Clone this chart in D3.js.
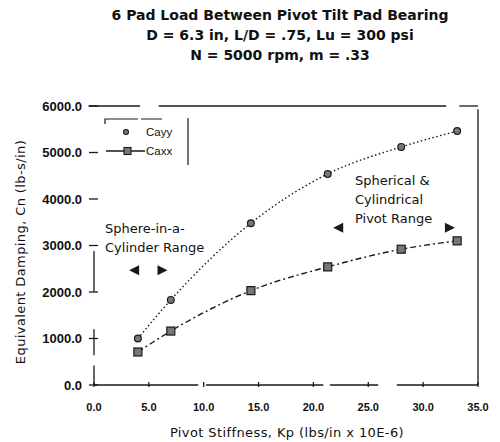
<!DOCTYPE html>
<html>
<head>
<meta charset="utf-8">
<script src="https://cdn.jsdelivr.net/npm/d3@7"></script>
<style>
  body { margin: 0; background: #fff; }
  svg text { font-family: "Liberation Sans", Arial, sans-serif; fill: #111; }
  svg text.wide { font-family: "DejaVu Sans", sans-serif; }
</style>
</head>
<body>
<svg id="chart" width="500" height="442"></svg>
<script>
// Pivot stiffness (x) and equivalent damping for the two directions
const stiffness = [4.0, 7.0, 14.3, 21.3, 28.0, 33.1];
const cayy = [1000, 1830, 3480, 4540, 5120, 5460];
const caxx = [710, 1160, 2030, 2540, 2920, 3100];
const xTicks = [0, 5, 10, 15, 20, 25, 30, 35];
const yTicks = [0, 1000, 2000, 3000, 4000, 5000, 6000];
const titleLines = [
  "6 Pad Load Between Pivot Tilt Pad Bearing",
  "D = 6.3 in, L/D = .75, Lu = 300 psi",
  "N = 5000 rpm, m = .33"
];

const svg = d3.select("#chart");
const x = d3.scaleLinear().domain([0, 35]).range([94, 478]);
const y = d3.scaleLinear().domain([0, 6000]).range([385, 106]);
const ink = "#1a1a1a";

// Title
svg.append("g").selectAll("text").data(titleLines).join("text")
  .attr("class", "wide")
  .attr("x", 280).attr("y", (d, i) => 20 + i * 20)
  .attr("text-anchor", "middle")
  .attr("font-size", 14).attr("font-weight", "bold")
  .text(d => d);

// Frame pieces (value ranges along each edge)
const frame = svg.append("g").attr("stroke", ink).attr("stroke-width", 1.3).attr("fill", "none");
const bottomRuns = [[0, 9.5], [10.2, 20.9], [21.5, 25.9], [27.6, 35]];
bottomRuns.forEach(r => frame.append("line")
  .attr("x1", x(r[0])).attr("x2", x(r[1])).attr("y1", y(0)).attr("y2", y(0)));
const topRuns = [[-0.5, 4.2], [5.9, 32.1], [33.3, 35]];
topRuns.forEach(r => frame.append("line")
  .attr("x1", x(r[0])).attr("x2", x(r[1])).attr("y1", y(6000)).attr("y2", y(6000)));
const leftRuns = [[0, 420], [640, 1200], [2000, 2880]];
leftRuns.forEach(r => frame.append("line")
  .attr("x1", x(0)).attr("x2", x(0)).attr("y1", y(r[0])).attr("y2", y(r[1])));
frame.append("line").attr("x1", x(35)).attr("x2", x(35)).attr("y1", y(0)).attr("y2", y(5930));

// Tick marks
frame.append("g").selectAll("line").data(yTicks).join("line")
  .attr("x1", x(0) - 5).attr("x2", x(0) + 4)
  .attr("y1", d => y(d)).attr("y2", d => y(d));
frame.append("g").selectAll("line").data(xTicks).join("line")
  .attr("x1", d => x(d)).attr("x2", d => x(d))
  .attr("y1", y(0) - 3).attr("y2", y(0) + 2);

// Tick labels
svg.append("g").selectAll("text").data(yTicks).join("text")
  .attr("x", 82).attr("y", d => y(d) + 4.5)
  .attr("text-anchor", "end").attr("font-size", 13).attr("font-weight", "bold")
  .text(d => d3.format(".1f")(d));
svg.append("g").selectAll("text").data(xTicks).join("text")
  .attr("x", d => x(d)).attr("y", 411)
  .attr("text-anchor", "middle").attr("font-size", 11).attr("font-weight", "bold")
  .text(d => d3.format(".1f")(d));

// Axis titles
svg.append("text").attr("class", "wide").attr("x", 287).attr("y", 437)
  .attr("text-anchor", "middle").attr("font-size", 13).attr("letter-spacing", 0.4)
  .text("Pivot Stiffness, Kp (lbs/in x 10E-6)");
svg.append("text").attr("class", "wide").attr("transform", "translate(25,252) rotate(-90)")
  .attr("text-anchor", "middle").attr("font-size", 13).attr("letter-spacing", 0.4)
  .text("Equivalent Damping, Cn (lb-s/in)");

// Curves
const pts = vals => stiffness.map((k, i) => [x(k), y(vals[i])]);
const curve = d3.line().curve(d3.curveMonotoneX);
svg.append("path").attr("d", curve(pts(cayy)))
  .attr("fill", "none").attr("stroke", ink).attr("stroke-width", 1.4)
  .attr("stroke-dasharray", "1.5,2.5");
svg.append("path").attr("d", curve(pts(caxx)))
  .attr("fill", "none").attr("stroke", ink).attr("stroke-width", 1.4)
  .attr("stroke-dasharray", "6,3,2,3");

// Markers
svg.append("g").selectAll("circle").data(pts(cayy)).join("circle")
  .attr("cx", d => d[0]).attr("cy", d => d[1]).attr("r", 3.4)
  .attr("fill", "#777").attr("stroke", ink).attr("stroke-width", 1.2);
svg.append("g").selectAll("rect").data(pts(caxx)).join("rect")
  .attr("x", d => d[0] - 4).attr("y", d => d[1] - 4)
  .attr("width", 8).attr("height", 8)
  .attr("fill", "#777").attr("stroke", ink).attr("stroke-width", 1.2);

// Legend
const lg = svg.append("g");
lg.append("path").attr("d", "M105,124 V119 H138 M141,119 H162 M188,118 V165")
  .attr("fill", "none").attr("stroke", ink).attr("stroke-width", 1.2);
lg.append("circle").attr("cx", 126).attr("cy", 132).attr("r", 2.5)
  .attr("fill", "#777").attr("stroke", ink).attr("stroke-width", 1.1);
lg.append("text").attr("x", 146).attr("y", 136).attr("font-size", 11.5).text("Cayy");
lg.append("line").attr("x1", 106).attr("x2", 145).attr("y1", 151).attr("y2", 151)
  .attr("stroke", ink).attr("stroke-width", 1.3);
lg.append("rect").attr("x", 124).attr("y", 147.5).attr("width", 7).attr("height", 7)
  .attr("fill", "#777").attr("stroke", ink).attr("stroke-width", 1.1);
lg.append("text").attr("x", 146).attr("y", 155).attr("font-size", 11.5).text("Caxx");

// Range annotations
const note = (lines, x0, y0) => svg.append("g").selectAll("text").data(lines).join("text")
  .attr("class", "wide")
  .attr("x", x0).attr("y", (d, i) => y0 + i * 19)
  .attr("font-size", 13).text(d => d);
note(["Sphere-in-a-", "Cylinder Range"], 105, 233);
note(["Spherical &", "Cylindrical", "Pivot Range"], 355, 185);

const arrow = (px, py, dir) => svg.append("path")
  .attr("d", `M${px},${py} l${-10 * dir},-5 l0,10 Z`)
  .attr("fill", ink);
arrow(x(3.2), y(2470), -1);
arrow(x(6.7), y(2470), 1);
arrow(x(21.8), y(3380), -1);
arrow(x(32.9), y(3380), 1);
</script>
</body>
</html>
